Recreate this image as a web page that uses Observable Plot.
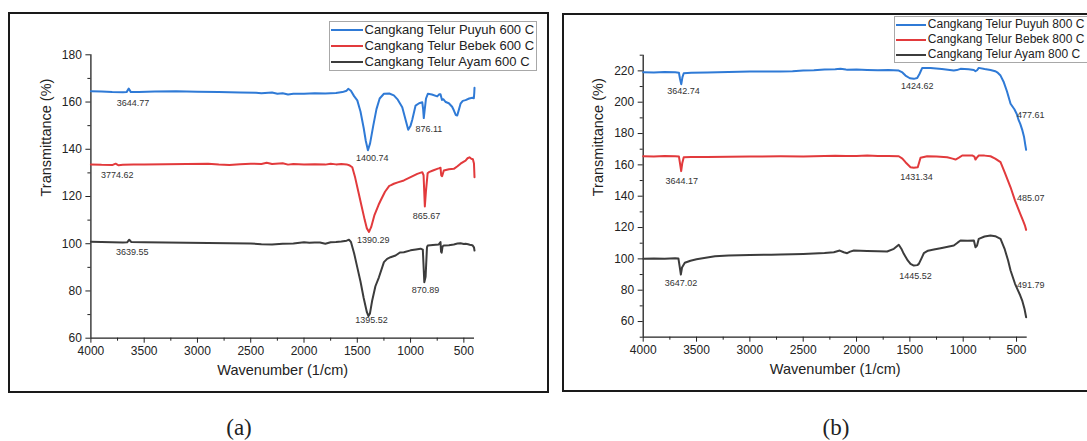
<!DOCTYPE html>
<html><head><meta charset="utf-8">
<script src="https://cdn.jsdelivr.net/npm/d3@7"></script>
<script src="https://cdn.jsdelivr.net/npm/@observablehq/plot@0.6"></script>
<style>
html,body{margin:0;padding:0;background:#fff;width:1087px;height:441px;overflow:hidden;font-family:"Liberation Sans",Arial,sans-serif}
#root{position:relative;width:1087px;height:441px;overflow:hidden}
.frame{position:absolute;border:2px solid #1a1a1a;box-sizing:border-box}
.plotwrap{position:absolute;top:0}
.legend{position:absolute;border:1px solid #a8a8a8;background:#fff;box-sizing:border-box;color:#222}
.legend .row{position:absolute;white-space:nowrap}
.legend .ln{position:absolute;height:2px}
.cap{position:absolute;font-family:"Liberation Serif","DejaVu Serif",serif;font-size:23px;color:#222;transform:translate(-50%,-50%)}
</style></head><body><div id="root"></div>
<script>
// ---------- DATA ----------
const xTicks = [4000, 3500, 3000, 2500, 2000, 1500, 1000, 500];
const xMinor = [3750, 3250, 2750, 2250, 1750, 1250, 750];
const yTicksA = [60, 80, 100, 120, 140, 160, 180];
const yMinorA = [70, 90, 110, 130, 150, 170];
const yTicksB = [60, 80, 100, 120, 140, 160, 180, 200, 220];
const yMinorB = [50, 70, 90, 110, 130, 150, 170, 190, 210, 230];
const xDomain = [4000, 400];
const yDomainA = [60, 180];
const yDomainB = [50, 230];

const seriesNamesA = ["Cangkang Telur Puyuh 600 C", "Cangkang Telur Bebek 600 C", "Cangkang Telur Ayam 600 C"];
const seriesNamesB = ["Cangkang Telur Puyuh 800 C", "Cangkang Telur Bebek 800 C", "Cangkang Telur Ayam 800 C"];
const seriesColors = ["#2f7ad6", "#e23a3c", "#3c3c3c"];

// [wavenumber, transmittance]
const puyuh600 = [[4000,164.6],[3900,164.5],[3800,164.2],[3700,164.1],[3665,164.2],[3645,165.7],[3625,164.2],[3550,164.3],[3400,164.5],[3200,164.6],[3000,164.4],[2800,164.2],[2600,164.0],[2450,163.9],[2400,163.7],[2300,164.0],[2250,163.5],[2200,163.7],[2150,163.2],[2100,163.5],[2000,163.5],[1900,163.7],[1800,163.6],[1700,163.8],[1640,164.2],[1600,164.8],[1585,165.6],[1560,164.8],[1530,162.5],[1500,160.7],[1470,156],[1440,149],[1420,143.5],[1400,139.6],[1380,142.5],[1350,150],[1320,157],[1290,161.5],[1250,163.5],[1200,163.6],[1157,162.8],[1120,161],[1078,157.8],[1050,153],[1022,148.3],[1000,150],[984,152.5],[953,158.5],[920,159.5],[890,159.9],[882,157],[876,153.2],[868,156.5],[855,161.5],[838,163.5],[800,163.2],[750,162.4],[730,163.3],[719,163.3],[705,160.9],[693,161.2],[670,160],[641,159.5],[610,158],[594,156.5],[575,154.5],[562,154.3],[545,157],[531,159.3],[510,160.5],[484,160.8],[450,161.5],[420,161.8],[406,161.6],[402,164],[400,166]];
const bebek600 = [[4000,133.6],[3900,133.4],[3800,133.3],[3768,133.9],[3740,133.2],[3700,133.4],[3600,133.5],[3500,133.6],[3300,133.7],[3100,133.8],[2900,133.9],[2800,133.5],[2700,133.3],[2600,133.7],[2500,133.9],[2400,133.8],[2350,134.3],[2300,133.8],[2200,134.1],[2150,133.5],[2100,133.8],[2000,133.6],[1900,133.7],[1800,133.5],[1750,133.9],[1700,133.6],[1650,133.8],[1600,133.6],[1570,133.1],[1547,132.4],[1520,128],[1490,122],[1460,116],[1430,110],[1410,106.5],[1390,105],[1370,107],[1340,112],[1300,116.5],[1281,118.3],[1240,122],[1200,124.5],[1188,124.7],[1157,125.4],[1120,126],[1063,126.8],[1000,128.2],[937,129.6],[890,130.3],[878,129],[866,115.8],[856,122],[840,129.8],[828,130.3],[790,131],[750,131.7],[730,132],[719,132.2],[712,128.9],[704,128.6],[688,131],[640,131.5],[594,131.7],[560,132.8],[531,133.9],[500,134.8],[484,135.2],[465,136.2],[447,136.6],[430,136],[415,135.8],[405,134],[400,128.2]];
const ayam600 = [[4000,100.8],[3900,100.7],[3800,100.6],[3700,100.5],[3660,100.6],[3640,101.7],[3620,100.7],[3500,100.6],[3300,100.5],[3100,100.4],[2900,100.3],[2700,100.2],[2500,100.1],[2400,99.8],[2300,99.7],[2200,100.0],[2100,100.1],[2000,100.6],[1950,100.4],[1900,100.5],[1850,100.5],[1800,100.0],[1750,100.6],[1700,100.7],[1650,100.9],[1600,101.3],[1578,101.7],[1560,100.8],[1530,96],[1500,90],[1470,84],[1440,77],[1410,71],[1395,69.4],[1381,70.5],[1360,76],[1330,82],[1297,85.8],[1250,92.2],[1220,93.6],[1188,94.3],[1141,95],[1100,96.3],[1063,96.4],[1000,97.2],[950,97.6],[906,97.9],[885,97.5],[871,83.7],[859,86],[846,98.5],[838,99.3],[790,99.5],[735,99.7],[719,100.7],[714,96.6],[708,96.2],[700,98.8],[688,99.3],[640,99.4],[594,99.7],[560,100.1],[531,100.2],[500,99.9],[484,100],[460,99.8],[445,99.6],[420,99.4],[405,98.5],[400,97.1]];

const puyuh800 = [[4000,219.1],[3900,219.0],[3800,219.2],[3700,219.1],[3665,218.8],[3655,215],[3643,211.5],[3632,216],[3620,218.5],[3550,218.8],[3400,219.0],[3200,219.3],[3000,219.6],[2800,219.6],[2713,219.6],[2600,219.8],[2500,220.2],[2400,220.4],[2300,220.8],[2200,221.0],[2150,221.3],[2100,220.8],[2088,220.7],[2000,220.8],[1900,220.6],[1800,220.4],[1700,220.5],[1604,220.2],[1570,219],[1541,217],[1500,215.3],[1463,214.9],[1431,215.5],[1410,218],[1384,221.9],[1306,221.9],[1200,221.2],[1088,220.2],[1060,220.5],[1025,221.3],[950,221.0],[900,220.6],[885,219.8],[870,220.4],[854,221.9],[800,221.2],[744,220.6],[700,219.8],[681,219.1],[650,217],[619,212.7],[590,207],[556,199],[520,195.5],[498,192.5],[480,188.5],[465,186.2],[445,182],[430,178],[416,172],[410,169.6]];
const bebek800 = [[4000,165.5],[3900,165.4],[3800,165.6],[3700,165.5],[3665,165.3],[3655,161],[3644,156],[3634,161],[3620,164.8],[3550,165],[3400,165.1],[3200,165.2],[3000,165.3],[2713,165.5],[2500,165.4],[2300,165.6],[2200,165.8],[2100,165.6],[2000,165.7],[1900,165.9],[1800,165.7],[1700,165.7],[1604,165.5],[1570,164],[1541,161.7],[1494,158.5],[1463,158.1],[1426,158.5],[1400,164.5],[1338,165.5],[1250,165.3],[1150,164.9],[1100,164],[1072,163.4],[1040,164.6],[1009,166],[916,166],[895,165.2],[885,163.4],[872,164.6],[854,166],[800,165.9],[744,165.5],[700,164],[650,161.7],[610,155],[556,145.7],[514,137.2],[490,133],[465,128.7],[440,124.5],[420,121],[410,118.5]];
const ayam800 = [[4000,100.1],[3900,100.2],[3800,100.1],[3700,100.4],[3670,100.3],[3658,95],[3647,90],[3636,94.5],[3610,97.5],[3557,98.8],[3500,99.8],[3400,100.8],[3327,101.6],[3200,102.2],[3000,102.5],[2800,102.6],[2713,102.8],[2600,102.9],[2500,103.1],[2400,103.4],[2300,103.7],[2213,104.2],[2157,105.3],[2120,104.2],[2088,103.6],[2060,104.6],[2025,105.3],[1900,105],[1800,104.8],[1713,104.7],[1650,106.4],[1604,109],[1580,106.5],[1557,103.2],[1520,99],[1494,96.8],[1463,95.7],[1430,96],[1416,96.8],[1390,100.5],[1369,103.6],[1330,105.2],[1275,106],[1200,107],[1088,108.5],[1050,110.5],[1025,111.7],[960,111.5],[900,111.7],[885,107.4],[870,108.5],[854,112.8],[800,114.3],[744,114.9],[700,114.5],[650,112.8],[610,106],[579,98.9],[556,92.6],[514,84.1],[491,80.5],[465,76.6],[445,73],[425,68],[410,62.7]];

// peak annotations: text, wavenumber position, transmittance position
const labTextA = ["3644.77", "1400.74", "876.11", "3774.62", "1390.29", "865.67", "3639.55", "1395.52", "870.89"];
const labWA = [3605, 1359, 828, 3752, 1350, 850, 3612, 1366, 860];
const labTA = [159.7, 136.4, 148.7, 128.9, 101.7, 111.5, 96.4, 67.5, 80.5];
const labTextB = ["3642.74", "1424.62", "477.61", "3644.17", "1431.34", "485.07", "3647.02", "1445.52", "491.79"];
const labWB = [3622, 1431, 366, 3638, 1438, 366, 3645, 1447, 366];
const labTB = [207, 210, 192, 149.5, 152, 139, 84.4, 88.9, 83.4];

const xTitle = "Wavenumber (1/cm)";
const yTitle = "Transmittance (%)";

// ---------- DRAW ----------
const root = document.getElementById("root");
function el(tag, cls, styles, text) {
  const e = document.createElement(tag);
  if (cls) e.className = cls;
  Object.assign(e.style, styles || {});
  if (text != null) e.textContent = text;
  return e;
}

function panel(cfg) {
  const labels = cfg.labText.map((t, i) => ({text: t, w: cfg.labW[i], t: cfg.labT[i]}));
  const svg = Plot.plot({
    width: cfg.width, height: cfg.height,
    marginLeft: cfg.ml, marginRight: cfg.mr, marginTop: cfg.mt, marginBottom: cfg.mb,
    x: {domain: xDomain},
    y: {domain: cfg.yDomain},
    style: {background: "transparent", fontFamily: "'Liberation Sans', Arial, sans-serif", fontSize: "12px", color: "#222", overflow: "visible"},
    marks: [
      Plot.ruleY([cfg.yDomain[0]], {stroke: "#222", strokeWidth: 1.3}),
      Plot.ruleX([xDomain[0]], {stroke: "#222", strokeWidth: 1.3}),
      Plot.axisX(xTicks, {tickSize: 5, tickPadding: 3, label: null, tickFormat: d => String(d), stroke: "#222", fontSize: 12}),
      Plot.axisX(xMinor, {tickSize: 3, label: null, tickFormat: () => "", stroke: "#222"}),
      Plot.axisY(cfg.yTicks, {tickSize: 5, tickPadding: 4, label: null, tickFormat: d => String(d), stroke: "#222", fontSize: 12}),
      Plot.axisY(cfg.yMinor, {tickSize: 3, label: null, tickFormat: () => "", stroke: "#222"}),
      ...cfg.series.map((s, i) => Plot.line(s, {x: d => d[0], y: d => d[1], stroke: seriesColors[i], strokeWidth: 2, strokeLinejoin: "round"})),
      Plot.text(labels, {x: "w", y: "t", text: "text", fontSize: 9, fill: "#333"}),
      Plot.text([xTitle], {text: d => d, frameAnchor: "bottom", dy: 36.5, fontSize: 14.5, fill: "#222"}),
      Plot.text([yTitle], {text: d => d, frameAnchor: "left", dx: -45, rotate: -90, fontSize: 14.5, fill: "#222"})
    ]
  });
  const wrap = el("div", "plotwrap", {left: cfg.left + "px", width: cfg.width + "px"});
  wrap.appendChild(svg);
  return wrap;
}

// frames
root.appendChild(el("div", "frame", {left: "8px", top: "12px", width: "541px", height: "381px"}));
root.appendChild(el("div", "frame", {left: "562px", top: "13px", width: "600px", height: "379px"}));

root.appendChild(panel({
  left: 0, width: 548, height: 400, ml: 90.4, mr: 74, mt: 54.3, mb: 62.3,
  yDomain: yDomainA, yTicks: yTicksA, yMinor: yMinorA,
  series: [puyuh600, bebek600, ayam600],
  labText: labTextA, labW: labWA, labT: labTA
}));
root.appendChild(panel({
  left: 550, width: 560, height: 400, ml: 92.7, mr: 83.3, mt: 54.7, mb: 63.3,
  yDomain: yDomainB, yTicks: yTicksB, yMinor: yMinorB,
  series: [puyuh800, bebek800, ayam800],
  labText: labTextB, labW: labWB, labT: labTB
}));

function legend(names, box, font, rowYs, lineLen, textX) {
  const lg = el("div", "legend", {left: box[0] + "px", top: box[1] + "px", width: box[2] + "px", height: box[3] + "px", fontSize: font + "px"});
  names.forEach((n, i) => {
    const y = rowYs[i];
    lg.appendChild(el("div", "ln", {left: "1px", top: (y - 1) + "px", width: lineLen + "px", background: seriesColors[i]}));
    lg.appendChild(el("div", "row", {left: textX + "px", top: (y - font * 0.6) + "px", lineHeight: (font * 1.2) + "px"}, n));
  });
  root.appendChild(lg);
}
legend(seriesNamesA, [328.5, 20.5, 208, 50], 13, [8.5, 24.5, 40.5], 32, 35);
legend(seriesNamesB, [894.3, 15.5, 220, 47], 12, [8, 23, 38], 30, 32.5);

root.appendChild(el("div", "cap", {left: "239px", top: "428px"}, "(a)"));
root.appendChild(el("div", "cap", {left: "836px", top: "428px"}, "(b)"));
</script>
</body></html>
